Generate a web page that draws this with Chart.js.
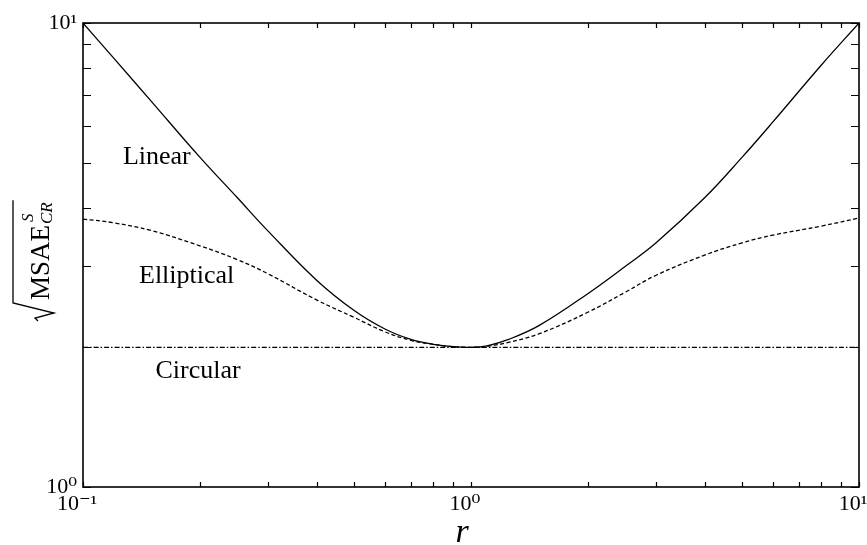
<!DOCTYPE html>
<html>
<head>
<meta charset="utf-8">
<script src="https://cdn.jsdelivr.net/npm/chart.js@4.4.0/dist/chart.umd.min.js"></script>
<style>
  html, body { margin: 0; padding: 0; background: #fff; }
</style>
</head>
<body>
<canvas id="msae" width="867" height="545"></canvas>
<script>
// aspect ratio r and the error of each estimator
var ratios = [0.1, 0.12, 0.15, 0.2, 0.25, 0.3, 0.4, 0.5, 0.6, 0.7, 0.8, 0.9, 1, 1.1, 1.25, 1.5, 2, 2.5, 3, 4, 5, 6, 8, 10];
var linearErr = [10, 8.4, 6.78, 5.14, 4.2, 3.56, 2.79, 2.4, 2.19, 2.08, 2.03, 2.006, 2.0, 2.015, 2.08, 2.23, 2.61, 2.99, 3.36, 4.2, 5.14, 6.12, 8.12, 10];
var ellipticalErr = [3.78, 3.71, 3.57, 3.31, 3.09, 2.88, 2.53, 2.32, 2.16, 2.07, 2.03, 2.006, 2.0, 2.01, 2.05, 2.14, 2.38, 2.63, 2.86, 3.16, 3.36, 3.49, 3.65, 3.8];
var circularR = [0.1, 10];
var circularErr = [2.0, 2.0];

var xMajor = [0.1, 1, 10];
var xMinor = [0.2, 0.3, 0.4, 0.5, 0.6, 0.7, 0.8, 0.9, 2, 3, 4, 5, 6, 7, 8, 9];
var xTickLabels = ['10\u207B\u00B9', '10\u2070', '10\u00B9'];
var yMajor = [1, 10];
var yMinor = [2, 3, 4, 5, 6, 7, 8, 9];
var yTickLabels = ['10\u2070', '10\u00B9'];
var curveNames = ['Linear', 'Elliptical', 'Circular'];

var SERIF = '"Liberation Serif", "DejaVu Serif", serif';

function pairs(xs, ys) {
  var out = [];
  for (var i = 0; i < xs.length; i++) {
    out.push({x: xs[i], y: ys[i]});
  }
  return out;
}

// inward ticks, frame, curve names and axis titles
var decorations = {
  id: 'decorations',
  afterDraw: function(chart) {
    var ctx = chart.ctx;
    var a = chart.chartArea;
    var xs = chart.scales.x;
    var ys = chart.scales.y;

    ctx.save();
    ctx.strokeStyle = '#000';
    ctx.lineWidth = 1.2;
    ctx.beginPath();
    xMajor.concat(xMinor).forEach(function(v) {
      var px = Math.round(xs.getPixelForValue(v)) + 0.5;
      ctx.moveTo(px, a.bottom); ctx.lineTo(px, a.bottom - 5);
      ctx.moveTo(px, a.top); ctx.lineTo(px, a.top + 5);
    });
    yMajor.concat(yMinor).forEach(function(v) {
      var py = Math.round(ys.getPixelForValue(v)) + 0.5;
      ctx.moveTo(a.left, py); ctx.lineTo(a.left + 8, py);
      ctx.moveTo(a.right, py); ctx.lineTo(a.right - 8, py);
    });
    ctx.stroke();

    ctx.lineWidth = 1.6;
    ctx.strokeRect(a.left, a.top, a.right - a.left, a.bottom - a.top);

    // curve names
    ctx.fillStyle = '#000';
    ctx.font = '26px ' + SERIF;
    ctx.textAlign = 'center';
    ctx.textBaseline = 'middle';
    var spots = [[0.155, 5.14], [0.185, 2.85], [0.198, 1.78]];
    curveNames.forEach(function(name, i) {
      ctx.fillText(name, xs.getPixelForValue(spots[i][0]), ys.getPixelForValue(spots[i][1]));
    });

    // x title
    ctx.font = 'italic 34px ' + SERIF;
    ctx.textBaseline = 'alphabetic';
    ctx.fillText('r', xs.getPixelForValue(1) - 9, 542);

    // y title: sqrt(MSAE^S_CR), rotated
    ctx.translate(0, 258);
    ctx.rotate(-Math.PI / 2);
    ctx.textAlign = 'left';
    ctx.font = '27px ' + SERIF;
    var u0 = -42;
    ctx.fillText('MSAE', u0, 49);
    var uEnd = u0 + ctx.measureText('MSAE').width + 1;
    ctx.font = 'italic 17px ' + SERIF;
    ctx.fillText('S', uEnd + 2, 33);
    ctx.fillText('CR', uEnd, 52);
    var uLast = uEnd + ctx.measureText('CR').width + 2;

    ctx.lineWidth = 1.3;
    ctx.beginPath();
    ctx.moveTo(-63, 38);
    ctx.lineTo(-60, 35);
    ctx.lineTo(-55, 54);
    ctx.lineTo(-45, 13);
    ctx.lineTo(uLast, 13);
    ctx.stroke();
    ctx.restore();
  }
};

var ctx = document.getElementById('msae').getContext('2d');
new Chart(ctx, {
  type: 'line',
  data: {
    datasets: [{
      label: curveNames[0],
      data: pairs(ratios, linearErr),
      borderColor: '#000',
      borderWidth: 1.3
    }, {
      label: curveNames[1],
      data: pairs(ratios, ellipticalErr),
      borderColor: '#000',
      borderWidth: 1.3,
      borderDash: [4, 2.5]
    }, {
      label: curveNames[2],
      data: pairs(circularR, circularErr),
      borderColor: '#000',
      borderWidth: 1.2,
      borderDash: [5, 2, 1.5, 2]
    }]
  },
  options: {
    responsive: false,
    animation: false,
    devicePixelRatio: 1,
    layout: { padding: { left: 0, top: 23, right: 8, bottom: 0 } },
    elements: {
      point: { radius: 0 },
      line: { tension: 0.4, fill: false }
    },
    plugins: {
      legend: { display: false },
      tooltip: { enabled: false }
    },
    scales: {
      x: {
        type: 'logarithmic',
        min: 0.1,
        max: 10,
        grid: { display: false, drawTicks: false },
        border: { display: false },
        afterBuildTicks: function(scale) {
          scale.ticks = xMajor.map(function(v) { return {value: v}; });
        },
        afterFit: function(scale) {
          scale.height = 58;
          scale.paddingLeft = 0;
          scale.paddingRight = 0;
        },
        ticks: {
          autoSkip: false,
          maxRotation: 0,
          padding: 4,
          labelOffset: -6,
          color: '#000',
          font: { family: SERIF, size: 22 },
          callback: function(v) { return xTickLabels[xMajor.indexOf(v)]; }
        }
      },
      y: {
        type: 'logarithmic',
        min: 1,
        max: 10,
        grid: { display: false, drawTicks: false },
        border: { display: false },
        afterBuildTicks: function(scale) {
          scale.ticks = yMajor.map(function(v) { return {value: v}; });
        },
        afterFit: function(scale) {
          scale.width = 83;
          scale.paddingTop = 0;
          scale.paddingBottom = 0;
        },
        ticks: {
          autoSkip: false,
          padding: 6,
          color: '#000',
          font: { family: SERIF, size: 22 },
          callback: function(v) { return yTickLabels[yMajor.indexOf(v)]; }
        }
      }
    }
  },
  plugins: [decorations]
});
</script>
</body>
</html>
